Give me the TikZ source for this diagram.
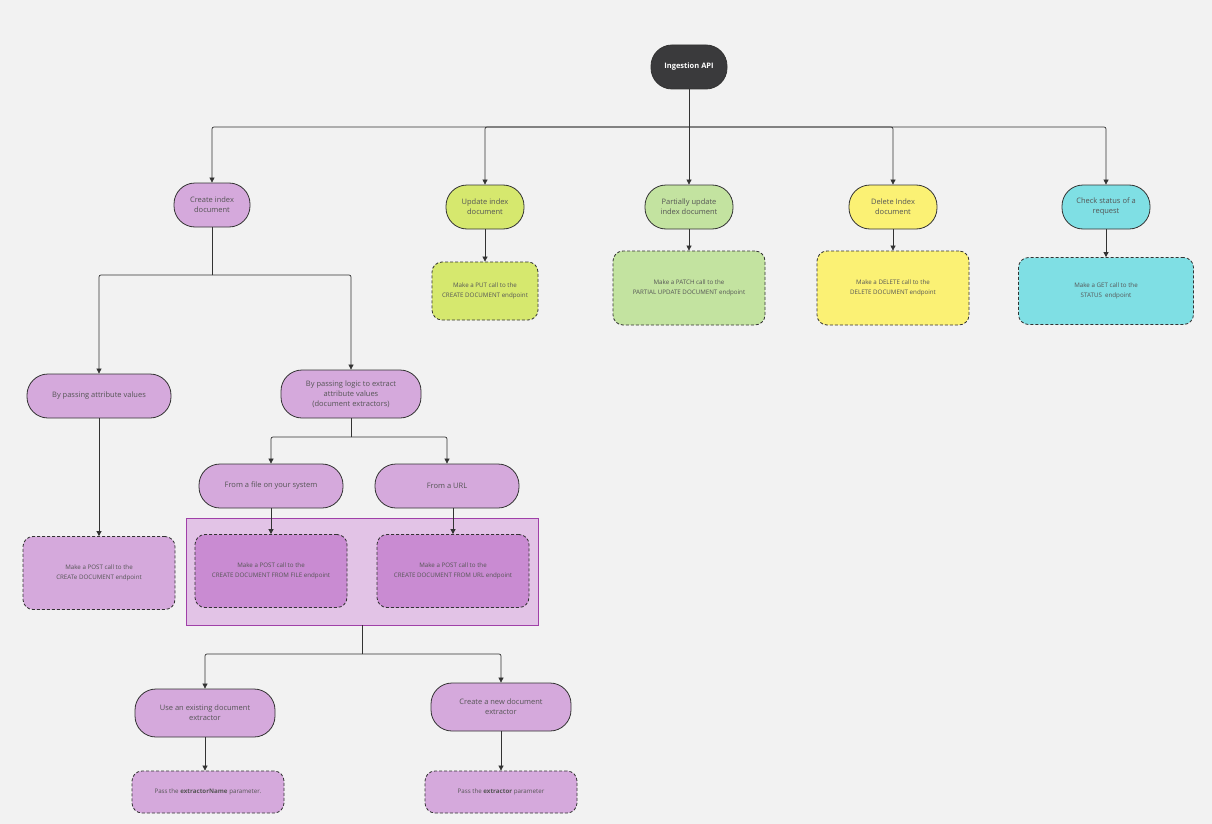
\documentclass[tikz,border=0pt]{standalone}
\usepackage{fontspec}
\setmainfont{Open Sans}
\usetikzlibrary{arrows.meta}
\definecolor{bg}{HTML}{F2F2F2}
\definecolor{pur}{HTML}{D5A9DC}
\definecolor{purd}{HTML}{C98BD2}
\definecolor{purl}{HTML}{E2C3E6}
\definecolor{purb}{HTML}{A040A8}
\definecolor{lime}{HTML}{D6E86E}
\definecolor{sage}{HTML}{C3E3A0}
\definecolor{yel}{HTML}{FBF174}
\definecolor{cya}{HTML}{7FDFE4}
\definecolor{txt}{HTML}{555555}
\definecolor{ln}{HTML}{333333}
\definecolor{dark}{HTML}{3A3A3C}
\tikzset{
 pill/.style={draw=ln,line width=0.8pt,rounded corners=21pt,minimum height=44pt,align=center,font=\fontsize{7.5}{10}\selectfont,text=txt,inner sep=2pt},
 box/.style={draw=ln,line width=0.8pt,dashed,dash pattern=on 3pt off 2pt,rounded corners=10pt,align=center,font=\fontsize{6.2}{9.5}\selectfont,text=txt,inner sep=1pt},
 arr/.style={draw=ln,line width=0.7pt,-{Triangle[length=5pt,width=5pt]},rounded corners=2pt},
 ln/.style={draw=ln,line width=0.7pt,rounded corners=2pt}
}
\begin{document}
\begin{tikzpicture}[x=1pt,y=-1pt]
\fill[bg] (0,0) rectangle (1212,824);
\useasboundingbox (0,0) rectangle (1212,824);
\fill[purl,draw=purb,line width=0.8pt] (186,518) rectangle (538,625);
\node[pill,fill=dark,text=white,font=\fontsize{7.5}{10}\selectfont\bfseries,minimum width=76pt] (api) at (689,67) {Ingestion API};
\node[pill,fill=pur,minimum width=76pt] (cr) at (212,205) {Create index\\document};
\node[pill,fill=lime,minimum width=78pt] (up) at (485,207) {Update index\\document};
\node[pill,fill=sage,minimum width=88pt] (pa) at (689,207) {Partially update\\index document};
\node[pill,fill=yel,minimum width=88pt] (de) at (893,207) {Delete Index\\document};
\node[pill,fill=cya,minimum width=88pt] (ch) at (1106,207) {Check status of a\\request};
\node[box,fill=lime,minimum width=106pt,minimum height=58pt] (put) at (485,291) {Make a PUT call to the\\CREATE DOCUMENT endpoint};
\node[box,fill=sage,minimum width=152pt,minimum height=74pt] (patch) at (689,288) {Make a PATCH call to the\\PARTIAL UPDATE DOCUMENT endpoint};
\node[box,fill=yel,minimum width=152pt,minimum height=74pt] (del) at (893,288) {Make a DELETE call to the\\DELETE DOCUMENT endpoint};
\node[box,fill=cya,minimum width=175pt,minimum height=67pt] (get) at (1106,291) {Make a GET call to the\\STATUS\ \ endpoint};
\node[pill,fill=pur,minimum width=144pt] (attr) at (99,396) {By passing attribute values};
\node[pill,fill=pur,minimum width=140pt,minimum height=48pt] (logic) at (351,394) {By passing logic to extract\\attribute values\\(document extractors)};
\node[pill,fill=pur,minimum width=144pt] (file) at (271,486) {From a file on your system};
\node[pill,fill=pur,minimum width=144pt] (url) at (447,486) {From a URL};
\node[box,fill=pur,minimum width=152pt,minimum height=73pt] (post) at (99,573) {Make a POST call to the\\CREATe DOCUMENT endpoint};
\node[box,fill=purd,minimum width=152pt,minimum height=73pt] (pfile) at (271,571) {Make a POST call to the\\CREATE DOCUMENT FROM FILE endpoint};
\node[box,fill=purd,minimum width=152pt,minimum height=73pt] (purl) at (453,571) {Make a POST call to the\\CREATE DOCUMENT FROM URL endpoint};
\coordinate (grp) at (362,625);
\node[pill,fill=pur,minimum width=140pt,minimum height=48pt] (ex) at (205,713) {Use an existing document\\extractor};
\node[pill,fill=pur,minimum width=140pt,minimum height=48pt] (nw) at (501,707) {Create a new document\\extractor};
\node[box,fill=pur,minimum width=152pt,minimum height=42pt] (pn) at (208,792) {Pass the \textbf{extractorName} parameter.};
\node[box,fill=pur,minimum width=152pt,minimum height=42pt] (px) at (501,792) {Pass the \textbf{extractor} parameter};
\draw[ln] (api.south) -- (689,127);
\foreach \t/\x in {cr/212,up/485,pa/689,de/893,ch/1106}
  \draw[arr] (689,127) -- (\x,127) -- (\t.north);
\draw[arr] (up) -- (put);
\draw[arr] (pa) -- (patch);
\draw[arr] (de) -- (del);
\draw[arr] (ch) -- (get);
\draw[ln] (cr.south) -- (212,275);
\draw[arr] (212,275) -- (99,275) -- (attr.north);
\draw[arr] (212,275) -- (351,275) -- (logic.north);
\draw[ln] (logic.south) -- (351,437);
\draw[arr] (351,437) -- (271,437) -- (file.north);
\draw[arr] (351,437) -- (447,437) -- (url.north);
\draw[arr] (attr) -- (post);
\draw[arr] (file) -- (pfile);
\draw[arr] (453,508) -- (purl.north);
\draw[ln] (grp) -- (362,654);
\draw[arr] (362,654) -- (205,654) -- (ex.north);
\draw[arr] (362,654) -- (501,654) -- (nw.north);
\draw[arr] (ex.south) -- (ex.south |- pn.north);
\draw[arr] (nw) -- (px);
\end{tikzpicture}
\end{document}
